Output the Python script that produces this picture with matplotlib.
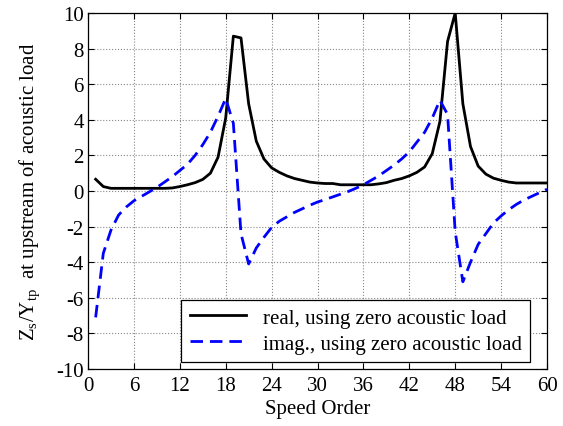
import numpy as np
import matplotlib
matplotlib.use("Agg")
import matplotlib.pyplot as plt

plt.rcParams['font.family'] = ['Liberation Serif', 'DejaVu Serif']
plt.rcParams['mathtext.fontset'] = 'custom'
plt.rcParams['mathtext.rm'] = 'Liberation Serif'
plt.rcParams['mathtext.it'] = 'Liberation Serif'
plt.rcParams['axes.unicode_minus'] = False

# speed orders 1..60
order = list(range(1, 61))

# real part, zero acoustic load
z_real = [0.66, 0.25, 0.15, 0.15, 0.15, 0.15, 0.15, 0.15, 0.15, 0.15,
          0.17, 0.25, 0.35, 0.47, 0.65, 1.0, 1.9, 4.1, 8.7, 8.6,
          4.9, 2.8, 1.8, 1.3, 1.05, 0.85, 0.7, 0.6, 0.5, 0.45,
          0.42, 0.42, 0.35, 0.35, 0.35, 0.35, 0.35, 0.4, 0.47, 0.6,
          0.7, 0.85, 1.05, 1.35, 2.1, 3.9, 8.4, 10.0, 4.9, 2.5,
          1.4, 0.95, 0.72, 0.6, 0.5, 0.45, 0.45, 0.45, 0.45, 0.45]

# imaginary part, zero acoustic load
z_imag = [-7.1, -3.5, -2.2, -1.35, -0.9, -0.55, -0.3, -0.05, 0.2, 0.5,
          0.8, 1.15, 1.5, 2.0, 2.6, 3.3, 4.2, 5.2, 3.8, -2.4,
          -4.1, -3.2, -2.6, -2.05, -1.7, -1.45, -1.2, -1.0, -0.8, -0.62,
          -0.48, -0.33, -0.18, -0.03, 0.15, 0.35, 0.6, 0.85, 1.15, 1.45,
          1.8, 2.2, 2.75, 3.3, 4.1, 5.1, 4.3, -2.3, -5.1, -4.0,
          -3.0, -2.4, -1.8, -1.4, -1.05, -0.75, -0.5, -0.3, -0.1, 0.1]

fig = plt.figure(figsize=(5.63, 4.27), dpi=100)
ax = fig.add_axes([0.1563, 0.1335, 0.8153, 0.8337])

ax.plot(order, z_real, color='black', lw=2.0, label='real, using zero acoustic load')
ax.plot(order, z_imag, color='blue', lw=2.0, ls=(0, (4.5, 2.5)),
        label='imag., using zero acoustic load')

ax.set_xlim(0, 60)
ax.set_ylim(-10, 10)
ax.set_xticks(np.arange(0, 61, 6))
ax.set_yticks(np.arange(-10, 11, 2))
ax.tick_params(direction='in', top=True, right=True, labelsize=15, length=4, width=0.8)
ax.tick_params(axis='x', pad=5)
ax.tick_params(axis='y', pad=3)
ax.grid(True, color='#888888', ls=':', lw=0.8)
for sp in ax.spines.values():
    sp.set_linewidth(0.9)

ax.set_xlabel('Speed Order', fontsize=15, labelpad=3)
ax.set_ylabel(r'$\mathrm{Z_s/Y_{tp}}$  at upstream of acoustic load', fontsize=15, labelpad=10)

leg = ax.legend(loc='lower right', fontsize=15, fancybox=False, framealpha=1,
                edgecolor='black', borderpad=0.4, handlelength=2.7,
                labelspacing=0.3, borderaxespad=0,
                bbox_to_anchor=(0.963, 0.02))
leg.get_frame().set_linewidth(0.9)

fig.savefig('out.png', dpi=100)
